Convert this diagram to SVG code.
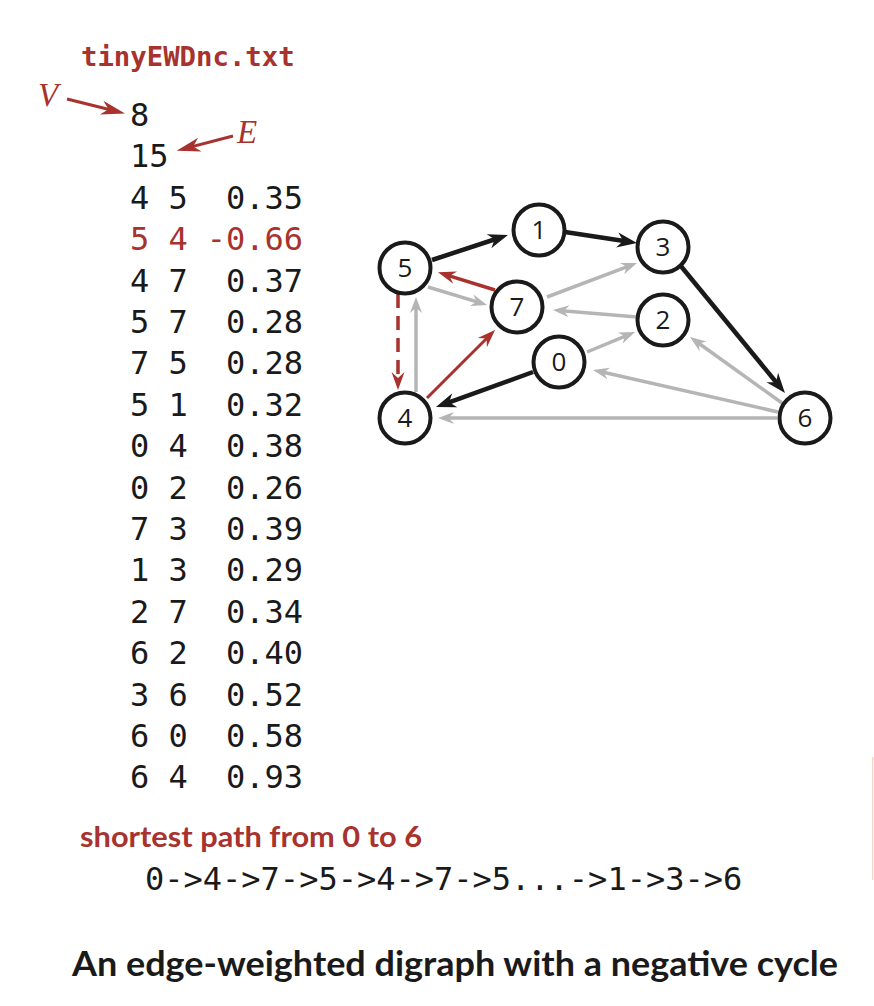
<svg xmlns="http://www.w3.org/2000/svg" width="874" height="1006" viewBox="0 0 874 1006">
<style>
.mono{font-family:"DejaVu Sans Mono","Liberation Mono",monospace;font-size:32px;fill:#1a1a1a;white-space:pre}
.red{fill:#a8322d}
.node circle{fill:#fff;stroke:#1a1a1a;stroke-width:4}
.node text{font-family:"Open Sans","DejaVu Sans",sans-serif;font-size:26px;fill:#1a1a1a;text-anchor:middle}
.e{fill:none;stroke-linecap:butt}
.blk{stroke:#1a1a1a;stroke-width:4.5;marker-end:url(#hb)}
.gry{stroke:#b5b5b5;stroke-width:3.5;marker-end:url(#hg)}
.rd{stroke:#a8322d;stroke-width:3.5;marker-end:url(#hr)}
.head{font-family:"Lato","Open Sans",sans-serif;font-weight:700}
.w{text-anchor:end}
</style>
<defs>
<marker id="hb" markerUnits="userSpaceOnUse" markerWidth="30" markerHeight="30" refX="-8" refY="0" orient="auto" overflow="visible"><path d="M0,0 L-20,-7.5 L-14,0 L-20,7.5 z" fill="#1a1a1a"/></marker>
<marker id="hg" markerUnits="userSpaceOnUse" markerWidth="30" markerHeight="30" refX="-6" refY="0" orient="auto" overflow="visible"><path d="M0,0 L-16,-6 L-11,0 L-16,6 z" fill="#b5b5b5"/></marker>
<marker id="hr" markerUnits="userSpaceOnUse" markerWidth="30" markerHeight="30" refX="-6" refY="0" orient="auto" overflow="visible"><path d="M0,0 L-18,-6.5 L-12,0 L-18,6.5 z" fill="#a8322d"/></marker>
<marker id="hl" markerUnits="userSpaceOnUse" markerWidth="30" markerHeight="30" refX="-7" refY="0" orient="auto" overflow="visible"><path d="M0,0 L-24,-7 L-17,0 L-24,7 z" fill="#a8322d"/></marker>
</defs>

<text class="mono red" x="81" y="66" style="font-weight:700;font-size:27.3px">tinyEWDnc.txt</text>
<text x="38" y="106" style="font-family:'Liberation Serif',serif;font-style:italic;font-size:33px;fill:#a8322d">V</text>
<text x="237" y="143" style="font-family:'Liberation Serif',serif;font-style:italic;font-size:33px;fill:#a8322d">E</text>
<g id="labelArrows" fill="none" stroke="#a8322d" stroke-width="3">
<line x1="67" y1="99" x2="118.2" y2="111.7" marker-end="url(#hl)"/>
<line x1="233" y1="136" x2="183.4" y2="148.9" marker-end="url(#hl)"/>
</g>

<g id="data" class="mono">
<text class="mono" x="130" y="126">8</text>
<text class="mono" x="130" y="167.4">15</text>
<text class="mono" x="130" y="208.8">4 5</text><text class="mono w" x="303" y="208.8">0.35</text>
<text class="mono red" x="130" y="250.2">5 4</text><text class="mono red w" x="303" y="250.2">-0.66</text>
<text class="mono" x="130" y="291.6">4 7</text><text class="mono w" x="303" y="291.6">0.37</text>
<text class="mono" x="130" y="333">5 7</text><text class="mono w" x="303" y="333">0.28</text>
<text class="mono" x="130" y="374.4">7 5</text><text class="mono w" x="303" y="374.4">0.28</text>
<text class="mono" x="130" y="415.8">5 1</text><text class="mono w" x="303" y="415.8">0.32</text>
<text class="mono" x="130" y="457.2">0 4</text><text class="mono w" x="303" y="457.2">0.38</text>
<text class="mono" x="130" y="498.6">0 2</text><text class="mono w" x="303" y="498.6">0.26</text>
<text class="mono" x="130" y="540">7 3</text><text class="mono w" x="303" y="540">0.39</text>
<text class="mono" x="130" y="581.4">1 3</text><text class="mono w" x="303" y="581.4">0.29</text>
<text class="mono" x="130" y="622.8">2 7</text><text class="mono w" x="303" y="622.8">0.34</text>
<text class="mono" x="130" y="664.2">6 2</text><text class="mono w" x="303" y="664.2">0.40</text>
<text class="mono" x="130" y="705.6">3 6</text><text class="mono w" x="303" y="705.6">0.52</text>
<text class="mono" x="130" y="747">6 0</text><text class="mono w" x="303" y="747">0.58</text>
<text class="mono" x="130" y="788.4">6 4</text><text class="mono w" x="303" y="788.4">0.93</text>
</g>

<g id="edges">
<line class="e blk" x1="432" y1="260" x2="500.4" y2="237.5"/>
<line class="e blk" x1="565" y1="232" x2="629.1" y2="241.8"/>
<line class="e blk" x1="680" y1="265" x2="779.9" y2="386.8"/>
<line class="e blk" x1="533" y1="372" x2="443.5" y2="404.3"/>
<line class="e rd" x1="495" y1="290" x2="443.7" y2="274.1"/>
<line class="e rd" x1="427" y1="398" x2="490.8" y2="334.2" style="stroke-width:3"/>
<line class="e rd" x1="398" y1="294" x2="398" y2="384" stroke-dasharray="14 8"/>
<line class="e gry" x1="428" y1="287" x2="481.3" y2="303.2"/>
<line class="e gry" x1="416" y1="392" x2="416" y2="303"/>
<line class="e gry" x1="547" y1="297" x2="631.4" y2="265.1"/>
<line class="e gry" x1="637" y1="317" x2="559" y2="310.5"/>
<line class="e gry" x1="587" y1="352" x2="629.5" y2="334.3"/>
<line class="e gry" x1="782" y1="403" x2="694.9" y2="340.5"/>
<line class="e gry" x1="778" y1="412" x2="598.9" y2="371.3"/>
<line class="e gry" x1="777" y1="418" x2="444" y2="418"/>
</g>

<g id="n5" class="node"><circle cx="405" cy="268" r="25.5"/><text x="405" y="277">5</text></g>
<g id="n1" class="node"><circle cx="539" cy="230" r="25.5"/><text x="539" y="239">1</text></g>
<g id="n3" class="node"><circle cx="663" cy="247" r="25.5"/><text x="663" y="256">3</text></g>
<g id="n7" class="node"><circle cx="517" cy="307" r="25.5"/><text x="517" y="316">7</text></g>
<g id="n2" class="node"><circle cx="663" cy="320" r="25.5"/><text x="663" y="329">2</text></g>
<g id="n0" class="node"><circle cx="559" cy="362" r="25.5"/><text x="559" y="371">0</text></g>
<g id="n4" class="node"><circle cx="405" cy="418" r="25.5"/><text x="405" y="427">4</text></g>
<g id="n6" class="node"><circle cx="805" cy="418" r="25.5"/><text x="805" y="427">6</text></g>

<text class="head" x="80" y="847" textLength="342" lengthAdjust="spacingAndGlyphs" style="font-size:28.5px;fill:#a8322d">shortest path from 0 to 6</text>
<text class="mono" x="145" y="890">0-&gt;4-&gt;7-&gt;5-&gt;4-&gt;7-&gt;5...-&gt;1-&gt;3-&gt;6</text>
<text class="head" x="72" y="976" textLength="766" lengthAdjust="spacingAndGlyphs" style="font-size:34px;fill:#1a1a1a">An edge-weighted digraph with a negative cycle</text>

<line x1="872.7" y1="757" x2="872.7" y2="880" stroke="#f2d8cb" stroke-width="1.5"/>
</svg>
